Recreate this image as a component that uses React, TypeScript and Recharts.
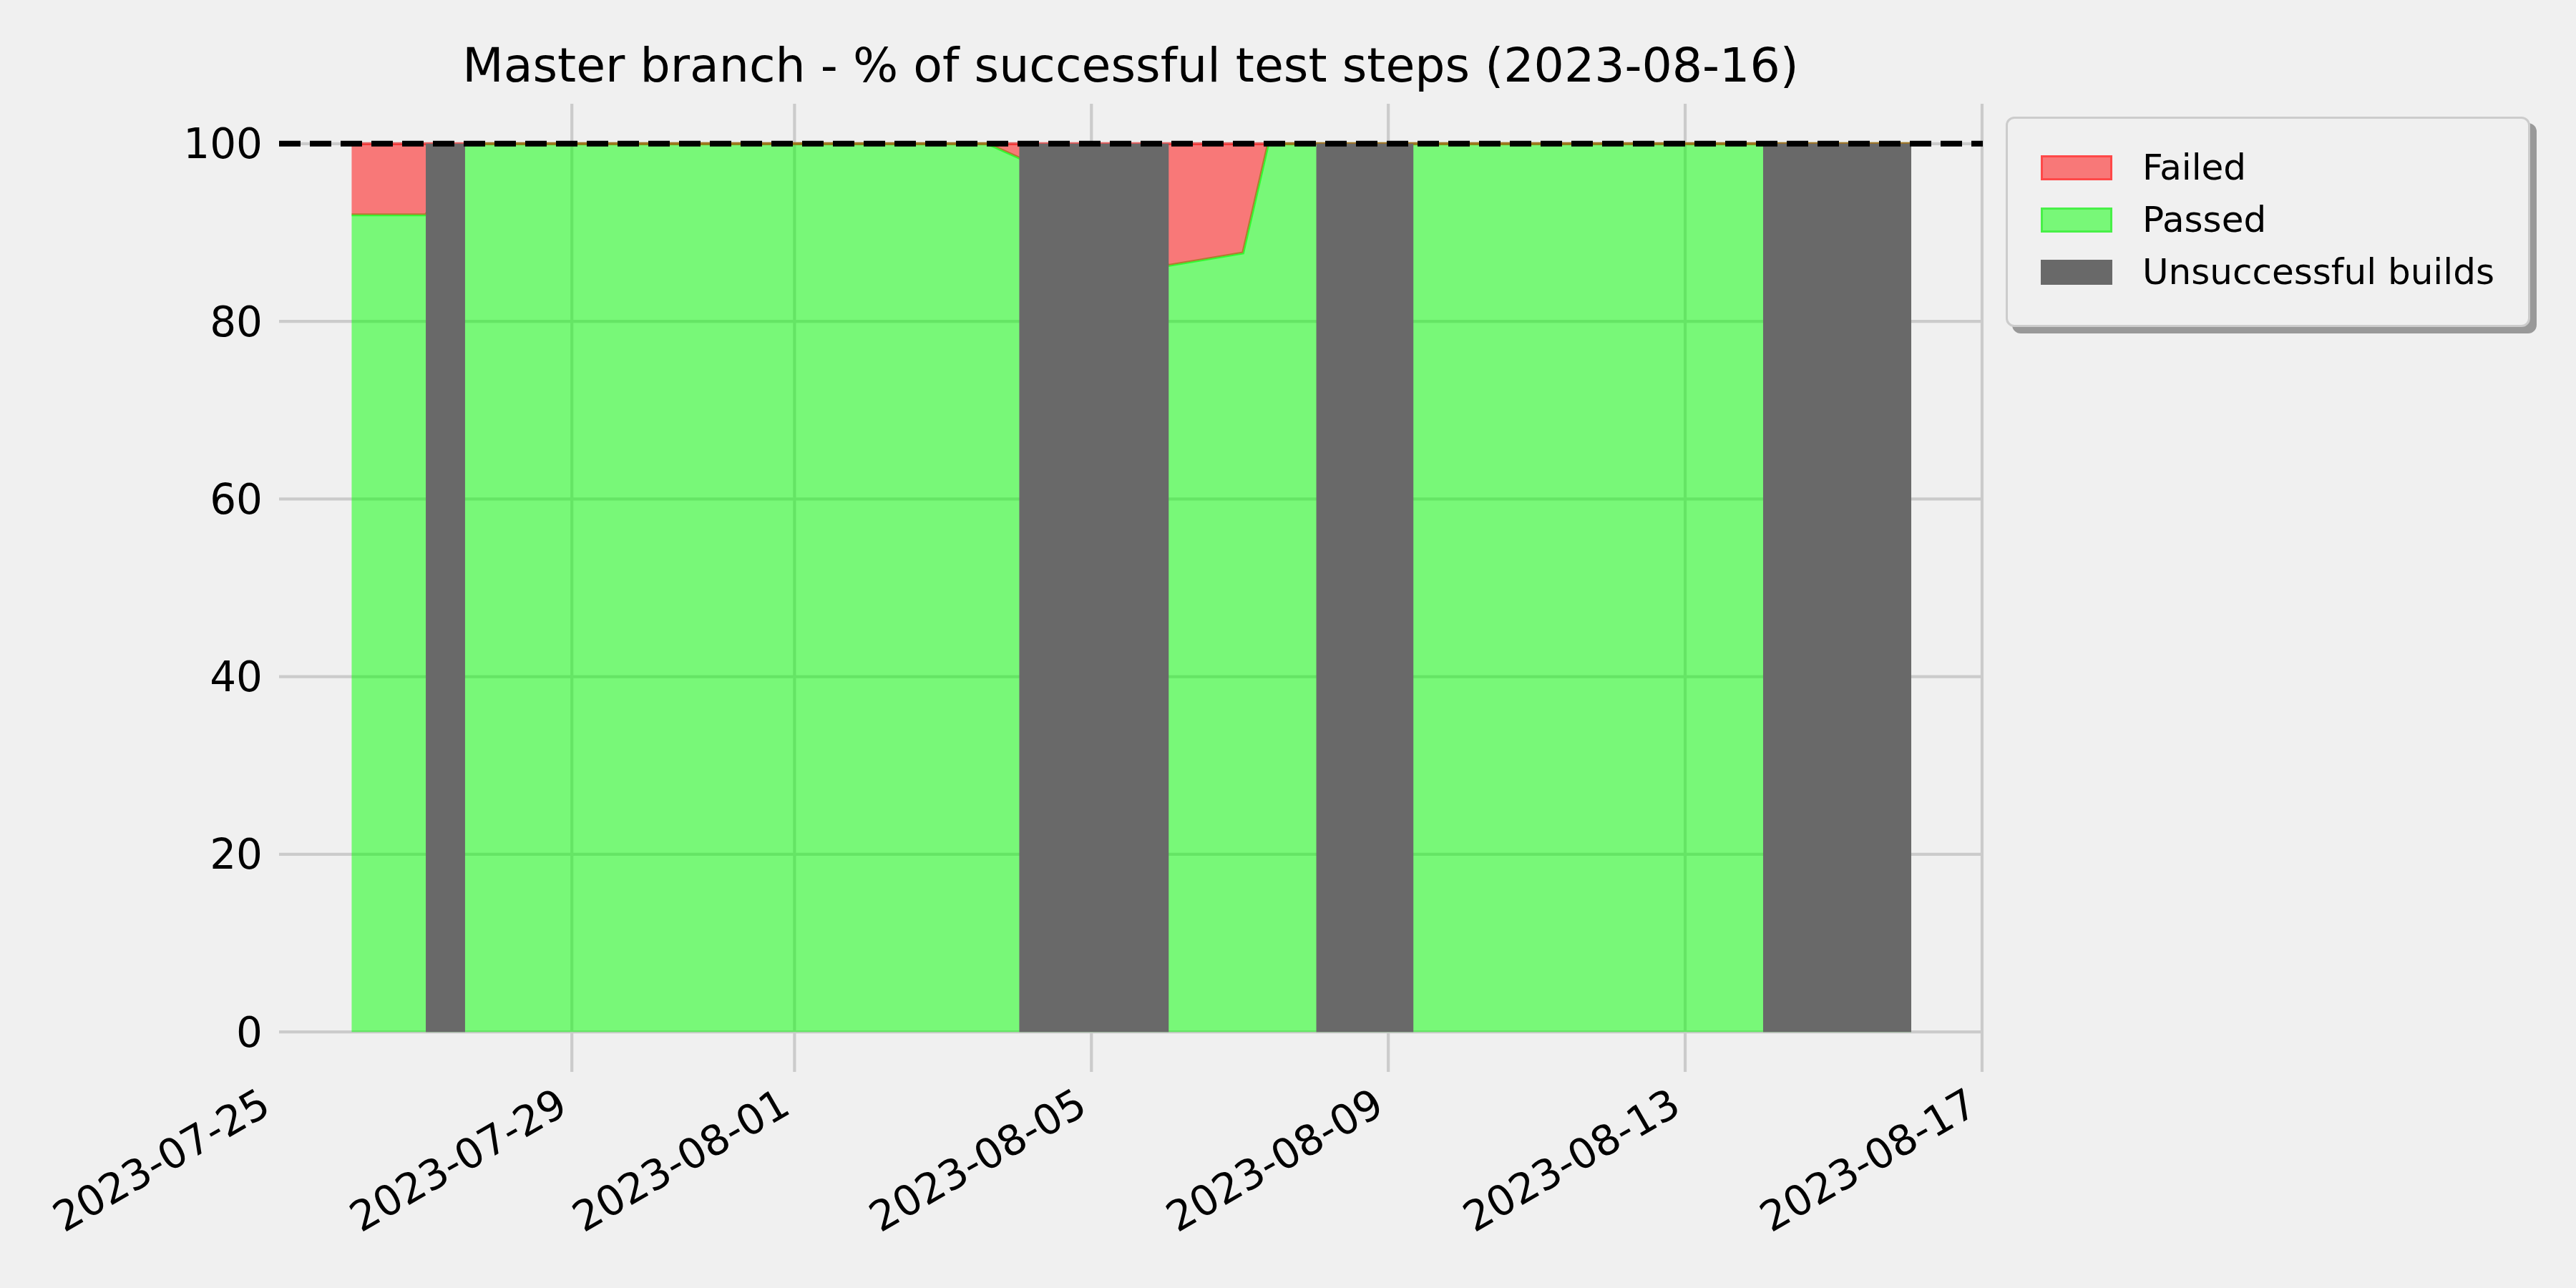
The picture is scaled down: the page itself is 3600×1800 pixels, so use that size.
import React from "react";
import {
  ComposedChart,
  Area,
  XAxis,
  YAxis,
  CartesianGrid,
  ReferenceLine,
} from "recharts";

// ---- data (days since 2023-07-25 00:00) ----
const runDays = [1.033, 2.032, 2.56, 9.603, 10.028, 12.041, 13.042, 13.382, 15.338, 20.05, 22.046];
const passedPct = [92, 92, 100, 100, 98.4, 86.3, 87.7, 100, 100, 100, 100];
const failedPct = [8, 8, 0, 0, 1.6, 13.7, 12.3, 0, 0, 0, 0];

const unsuccessfulStart = [2.032, 10.028, 14.03, 20.05];
const unsuccessfulEnd = [2.561, 12.041, 15.338, 22.046];
const unsuccessfulHeight = 100;

const xDomain = [0.055, 23.01];
const xTickDays = [0, 4, 7, 11, 15, 19, 23];
const xTickLabels = [
  "2023-07-25",
  "2023-07-29",
  "2023-08-01",
  "2023-08-05",
  "2023-08-09",
  "2023-08-13",
  "2023-08-17",
];
const yTicks = [0, 20, 40, 60, 80, 100];
const targetPct = 100;

const legendLabels = ["Failed", "Passed", "Unsuccessful builds"];
const legendFills = ["#f87878", "#78f878", "#696969"];
const legendEdges = ["#ff4848", "#48f048", "#696969"];

const title = "Master branch - % of successful test steps (2023-08-16)";

const runs = runDays.map((t, i) => ({ t, passed: passedPct[i], failed: failedPct[i] }));
const unsuccessful = unsuccessfulStart.flatMap((s, i) => [
  { t: s, v: unsuccessfulHeight },
  { t: unsuccessfulEnd[i], v: unsuccessfulHeight },
  { t: unsuccessfulEnd[i], v: null },
]);

const FONT = "'DejaVu Sans', sans-serif";

const XTick = (props: any) => {
  const { x, y, payload } = props;
  const idx = xTickDays.indexOf(payload.value);
  const label = idx >= 0 ? xTickLabels[idx] : "";
  return (
    <g transform={`translate(${x - 24},${y}) rotate(-30)`}>
      <text x={0} y={0} dy={42} textAnchor="end" fontSize={58} fontFamily={FONT} fill="#000">
        {label}
      </text>
    </g>
  );
};

export default function App() {
  return (
    <div style={{ position: "relative", width: 3600, height: 1800, background: "#f0f0f0", overflow: "hidden" }}>
      <style>{"body{margin:0;background:#f0f0f0;}"}</style>
      <div
        style={{
          position: "absolute",
          left: 80,
          width: 3000,
          top: 58,
          textAlign: "center",
          fontFamily: FONT,
          fontSize: 66.5,
          lineHeight: "66.5px",
          color: "#000",
          whiteSpace: "nowrap",
        }}
      >
        {title}
      </div>
      <ComposedChart
        width={3600}
        height={1800}
        data={runs}
        margin={{ top: 145, right: 829, bottom: 52, left: 190 }}
        style={{ position: "absolute", left: 0, top: 0 }}
      >
        <CartesianGrid
          stroke="#cbcbcb"
          strokeWidth={4.2}
          verticalValues={xTickDays.slice(1)}
          horizontalValues={yTicks}
        />
        <XAxis
          dataKey="t"
          type="number"
          domain={xDomain}
          ticks={xTickDays}
          allowDataOverflow
          axisLine={false}
          tickLine={false}
          tickSize={0}
          tickMargin={20}
          height={250}
          interval={0}
          tick={<XTick />}
        />
        <YAxis
          type="number"
          domain={[-4.5, 104.5]}
          ticks={yTicks}
          allowDataOverflow
          axisLine={false}
          tickLine={false}
          tickSize={0}
          tickMargin={23}
          width={200}
          interval={0}
          tick={{ fontSize: 58, fill: "#000", fontFamily: FONT }}
        />
        <Area
          type="linear"
          dataKey="passed"
          stackId="s"
          fill="lime"
          fillOpacity={0.5}
          stroke="lime"
          strokeOpacity={0.6}
          strokeWidth={4}
          isAnimationActive={false}
          activeDot={false}
        />
        <Area
          type="linear"
          dataKey="failed"
          stackId="s"
          fill="red"
          fillOpacity={0.5}
          stroke="red"
          strokeOpacity={0.5}
          strokeWidth={4}
          isAnimationActive={false}
          activeDot={false}
        />
        <Area
          type="linear"
          data={unsuccessful}
          dataKey="v"
          baseValue={0}
          fill="#696969"
          fillOpacity={1}
          stroke="none"
          connectNulls={false}
          isAnimationActive={false}
          activeDot={false}
        />
        <ReferenceLine
          y={targetPct}
          stroke="#000"
          strokeWidth={8}
          strokeDasharray="30 13"
          ifOverflow="extendDomain"
        />
      </ComposedChart>
      <div
        style={{
          position: "absolute",
          left: 2803,
          top: 163,
          width: 733,
          height: 294,
          boxSizing: "border-box",
          border: "3px solid #cccccc",
          borderRadius: 12,
          background: "#f0f0f0",
          boxShadow: "9px 9px 0 #999999",
          fontFamily: FONT,
        }}
      >
        {legendLabels.map((lab, i) => (
          <React.Fragment key={lab}>
            <div
              style={{
                position: "absolute",
                left: 46,
                top: 71 + i * 73 - 17.5 - 3,
                width: 100,
                height: 35,
                boxSizing: "border-box",
                background: legendFills[i],
                border: `3px solid ${legendEdges[i]}`,
              }}
            />
            <div
              style={{
                position: "absolute",
                left: 188,
                top: 71 + i * 73 - 25 - 3,
                height: 50,
                lineHeight: "50px",
                fontSize: 50,
                color: "#000",
                whiteSpace: "nowrap",
              }}
            >
              {lab}
            </div>
          </React.Fragment>
        ))}
      </div>
    </div>
  );
}
